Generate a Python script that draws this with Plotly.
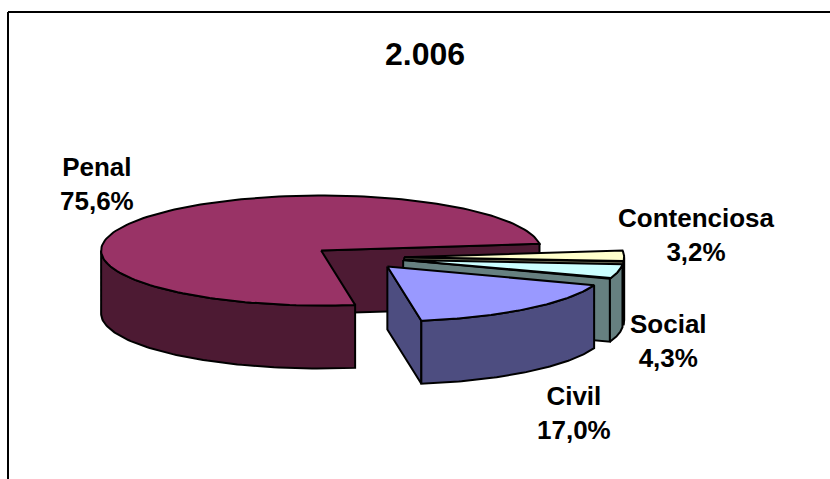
import numpy as np
import plotly.graph_objects as go

# data
categories = ["Penal", "Civil", "Social", "Contenciosa"]
values = [75.6, 17.0, 4.3, 3.2]
title_text = "2.006"

# style
top_colors = ["#993366", "#9999FF", "#CCFFFF", "#FFFFCC"]
wall_colors = ["#4D1A33", "#4D4D80", "#668080", "#808066"]
draw_order = [0, 3, 2, 1]
label_pos = [(97, 184), (574, 413), (668, 341), (696, 235)]

# pie projection (pixels)
CX, CY = 358, 257.5
RX, RY = 220, 55
DEPTH = 63
EXPLODE = 0.21
START = 7.0

fig = go.Figure()


def arc(cx, cy, t0, t1, n=80):
    t = np.radians(np.linspace(t0, t1, n))
    return cx + RX * np.cos(t), cy - RY * np.sin(t)


def poly(xs, ys, color):
    xs = np.append(xs, xs[0])
    ys = np.append(ys, ys[0])
    fig.add_trace(go.Scatter(x=xs, y=ys, mode="lines", fill="toself", fillcolor=color,
                             line=dict(color="black", width=2), hoverinfo="skip",
                             showlegend=False))


total = sum(values)
starts = START + 360 * np.cumsum([0] + values[:-1]) / total
sweeps = [360 * v / total for v in values]

for i in draw_order:
    t1, t2 = starts[i], starts[i] + sweeps[i]
    mid = np.radians((t1 + t2) / 2)
    ax = CX + EXPLODE * RX * np.cos(mid)
    ay = CY - EXPLODE * RY * np.sin(mid)
    # cut wall on the leading edge
    ex, ey = arc(ax, ay, t1, t1, 1)
    poly(np.array([ax, ex[0], ex[0], ax]), np.array([ay, ey[0], ey[0] + DEPTH, ay + DEPTH]), wall_colors[i])
    # outer wall, front half only
    a = max(t1, 180)
    b = min(t2, 360)
    if b > a:
        wx, wy = arc(ax, ay, a, b)
        poly(np.concatenate([wx, wx[::-1]]), np.concatenate([wy, wy[::-1] + DEPTH]), wall_colors[i])
    # top face
    tx, ty = arc(ax, ay, t1, t2, 160)
    poly(np.concatenate([[ax], tx]), np.concatenate([[ay], ty]), top_colors[i])

for name, v, (lx, ly) in zip(categories, values, label_pos):
    fig.add_annotation(x=lx, y=ly, xref="x", yref="y", showarrow=False, align="center",
                       text=f"{name}<br>{v:.1f}%".replace(".", ","),
                       font=dict(family="Liberation Sans", size=26, color="black", weight="bold"))

fig.add_annotation(x=425, y=54, xref="x", yref="y", showarrow=False, text=title_text,
                   font=dict(family="Liberation Sans", size=32, color="black", weight="bold"))

# chart frame
fig.add_shape(type="line", x0=8, x1=8, y0=12, y1=479, xref="x", yref="y", line=dict(color="black", width=2))
fig.add_shape(type="line", x0=8, x1=830, y0=12, y1=12, xref="x", yref="y", line=dict(color="black", width=2))

fig.update_layout(width=830, height=479, margin=dict(l=0, r=0, t=0, b=0),
                  paper_bgcolor="white", plot_bgcolor="white", showlegend=False,
                  xaxis=dict(range=[0, 830], visible=False, fixedrange=True),
                  yaxis=dict(range=[479, 0], visible=False, fixedrange=True))
fig.write_html("out.html", config=dict(displayModeBar=False),
               post_script="document.body.style.margin='0';document.documentElement.style.overflow='hidden';")
